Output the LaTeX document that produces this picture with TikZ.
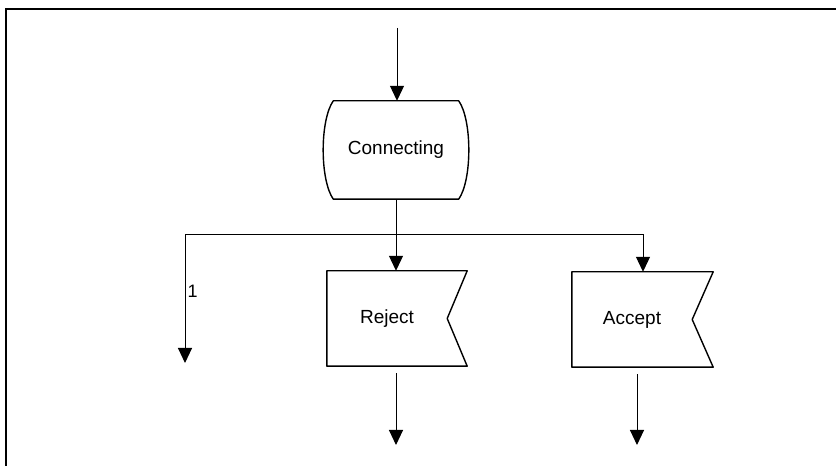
\documentclass[tikz,border=0pt]{standalone}
\usepackage{fontspec}
\setmainfont{Liberation Sans}
\usetikzlibrary{arrows.meta, positioning, calc}
\tikzstyle{statebox} = [
    rectangle,
    minimum width=145pt,
    minimum height=98pt,
    inner sep=0pt,
    font=\fontsize{19}{22}\selectfont
]
\tikzstyle{sigbox} = [
    rectangle,
    minimum width=120pt,
    minimum height=95pt,
    inner sep=0pt,
    font=\fontsize{19}{22}\selectfont
]
\tikzstyle{outline} = [
    line width=1.4pt,
    line join=round
]
\tikzstyle{arrow} = [
    line width=1pt,
    -{Triangle[length=15pt, width=14pt]}
]

\begin{document}
\begin{tikzpicture}[x=1pt, y=1pt]
        \useasboundingbox (0,0) rectangle (836,466);
        % Frame
        \draw[line width=1.8pt] (836,457) -| (6,0);

        % Connecting state
        \node[statebox] (conn) at (396,316) {Connecting};
        \draw[outline] ($(conn.north west)+(10,0)$) -- ($(conn.north east)+(-10,0)$)
            .. controls ($(conn.east)+(3.5,30)$) and ($(conn.east)+(3.5,-30)$) .. ($(conn.south east)+(-10,0)$)
            -- ($(conn.south west)+(10,0)$)
            .. controls ($(conn.west)+(-3.5,-30)$) and ($(conn.west)+(-3.5,30)$) .. cycle;

        % Reject signal
        \node[sigbox] (rej) at (387,147.5) {Reject};
        \draw[outline] (rej.north west) -- ($(rej.north east)+(20,0)$) -- (rej.east)
            -- ($(rej.south east)+(20,0)$) -- (rej.south west) -- cycle;

        % Accept signal
        \node[sigbox] (acc) at (632,146.5) {Accept};
        \draw[outline] (acc.north west) -- ($(acc.north east)+(21,0)$) -- (acc.east)
            -- ($(acc.south east)+(21,0)$) -- (acc.south west) -- cycle;

        % Free ends
        \coordinate (in) at (397,438);
        \coordinate (split) at (396,231);
        \coordinate (out1) at (185,103);
        \coordinate (rejout) at (396,21);
        \coordinate (accout) at (637,21);

        % Arrows
        \draw[arrow] (in) -- (in |- conn.north);
        \draw[line width=1pt] (conn.south -| split) -- (split);
        \draw[arrow] (split) -| node[pos=0.72, right, inner sep=2pt, font=\fontsize{18}{21}\selectfont]{1} (out1);
        \draw[arrow] (split) -- (split |- rej.north);
        \draw[arrow] (split) -| ([xshift=11pt]acc.north);
        \draw[arrow] (rejout |- rej.south) ++(0,-7) -- (rejout);
        \draw[arrow] (accout |- acc.south) ++(0,-7) -- (accout);
    \end{tikzpicture}
\end{document}
